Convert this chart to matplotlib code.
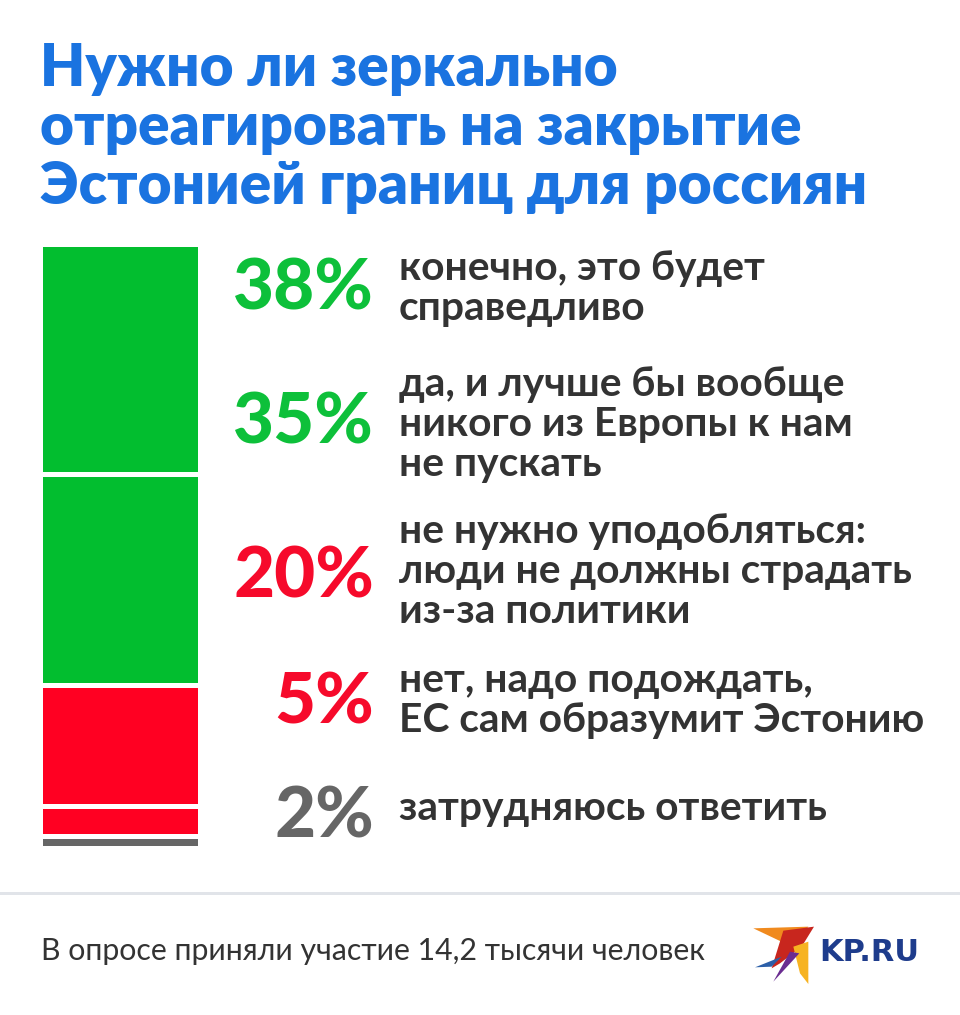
import matplotlib
matplotlib.use("Agg")
import matplotlib.pyplot as plt
from matplotlib.patches import Polygon, Rectangle
import numpy as np

# ---- data ----
title_lines = ["Нужно ли зеркально", "отреагировать на закрытие", "Эстонией границ для россиян"]
values = [38, 35, 20, 5, 2]
answers = [
    "конечно, это будет\nсправедливо",
    "да, и лучше бы вообще\nникого из Европы к нам\nне пускать",
    "не нужно уподобляться:\nлюди не должны страдать\nиз-за политики",
    "нет, надо подождать,\nЕС сам образумит Эстонию",
    "затрудняюсь ответить",
]
footer = "В опросе приняли участие 14,2 тысячи человек"
logo_text = "KP.RU"

# ---- style ----
GREEN = "#02BE2F"
RED = "#FF0022"
GRAY = "#666666"
bar_colors = [GREEN, GREEN, RED, RED, GRAY]
pct_colors = ["#0DC03A", "#0DC03A", "#F60A2B", "#F60A2B", "#666666"]
BLUE = "#1A73E0"
TEXT = "#333333"

W, H = 960, 1015
fig = plt.figure(figsize=(W / 100, H / 100), dpi=100)
fig.patch.set_facecolor("white")

bg = fig.add_axes([0, 0, 1, 1])
bg.set_xlim(0, W)
bg.set_ylim(H, 0)
bg.axis("off")

# title
title_base = [86, 145, 204]
for line, yb in zip(title_lines, title_base):
    bg.text(40, yb, line, fontsize=42, fontweight="heavy", family=["Lato", "DejaVu Sans"],
            color=BLUE, ha="left", va="baseline")

# stacked bar
gap = 0.83
bar_top, bar_bot = 247, 846
bax = fig.add_axes([43 / W, 1 - bar_bot / H, 155 / W, (bar_bot - bar_top) / H])
bottoms = np.concatenate([[0], np.cumsum(values)[:-1]])
heights = np.array(values) - gap
bax.bar([0] * len(values), heights, bottom=bottoms, width=1.0, color=bar_colors, linewidth=0)
bax.set_xlim(-0.5, 0.5)
bax.set_ylim(100 - gap, 0)
bax.axis("off")

# percent labels and answers
pct_base = [310, 443, 597, 723, 837]
ans_first = [280, 396, 543, 692, 820]
line_sp = 40
for v, ans, c, pb, ab in zip(values, answers, pct_colors, pct_base, ans_first):
    bg.text(374, pb, f"{v}%", fontsize=51, fontweight="black", family=["Lato", "DejaVu Sans"],
            color=c, ha="right", va="baseline")
    for i, ln in enumerate(ans.split("\n")):
        bg.text(399, ab + i * line_sp, ln, fontsize=29.3, fontweight="bold",
                family=["Lato", "DejaVu Sans"], color=TEXT, ha="left", va="baseline")

# separator
bg.add_patch(Rectangle((0, 892), W, 3, color="#E1E4E9", lw=0))

# footer
bg.text(41, 960, footer, fontsize=21.8, family=["Lato", "DejaVu Sans"], color=TEXT,
        ha="left", va="baseline")

# logo bird
ox, oy = 740, 910
def P(pts):
    return [(ox + x / 3, oy + y / 3) for x, y in pts]
bird = [
    (P([(40, 55), (205, 50), (160, 112)]), "#F08A1E"),
    (P([(130, 62), (222, 50), (185, 110), (120, 160), (95, 175)]), "#C8261E"),
    (P([(160, 110), (205, 95), (205, 222), (180, 190)]), "#F7B321"),
    (P([(150, 125), (178, 130), (100, 215)]), "#6A2C91"),
    (P([(45, 172), (125, 140), (95, 170)]), "#2C5FA8"),
]
for pts, col in bird:
    bg.add_patch(Polygon(pts, closed=True, color=col, lw=0))
bg.text(819, 961, logo_text, fontsize=22, fontweight="heavy", family=["DejaVu Sans"],
        color="#1E3C8C", ha="left", va="baseline")

fig.savefig("out.png", dpi=100, facecolor="white")
